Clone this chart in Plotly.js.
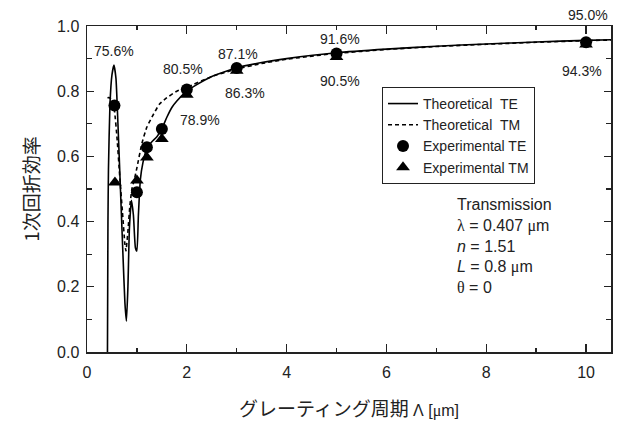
<!DOCTYPE html>
<html>
<head>
<meta charset="utf-8">
<script src="https://cdn.plot.ly/plotly-3.0.1.min.js"></script>
<style>html,body{margin:0;padding:0;background:#fff;}#chart{width:622px;height:421px;}</style>
</head>
<body>
<div id="chart"></div>
<script>
// Theoretical curves
const theoTE_x = [0.41, 0.415, 0.42, 0.43, 0.46, 0.50, 0.54, 0.58, 0.62, 0.67, 0.72, 0.76, 0.79, 0.82, 0.85, 0.89, 0.93, 0.97, 1.00, 1.03, 1.07, 1.12, 1.20, 1.30, 1.40, 1.50, 1.60, 1.70, 1.80, 2.00, 2.20, 2.50, 3.00, 3.50, 4.00, 5.00, 6.00, 7.00, 8.00, 9.00, 10.00, 10.50];
const theoTE_y = [0.00, 0.20, 0.40, 0.56, 0.76, 0.85, 0.88, 0.84, 0.70, 0.50, 0.30, 0.15, 0.095, 0.20, 0.38, 0.465, 0.42, 0.32, 0.31, 0.42, 0.53, 0.58, 0.625, 0.645, 0.66, 0.685, 0.72, 0.75, 0.77, 0.80, 0.82, 0.845, 0.872, 0.888, 0.90, 0.918, 0.929, 0.938, 0.945, 0.951, 0.956, 0.958];
const theoTM_x = [0.41, 0.45, 0.50, 0.55, 0.60, 0.66, 0.71, 0.76, 0.78, 0.82, 0.86, 0.90, 0.95, 1.00, 1.10, 1.20, 1.30, 1.45, 1.60, 1.80, 2.00, 2.50, 3.00, 3.50, 4.00, 5.00, 6.00, 7.00, 8.00, 9.00, 10.00, 10.50];
const theoTM_y = [0.78, 0.78, 0.77, 0.74, 0.66, 0.53, 0.43, 0.33, 0.31, 0.37, 0.45, 0.50, 0.53, 0.565, 0.64, 0.69, 0.72, 0.76, 0.78, 0.80, 0.812, 0.845, 0.868, 0.885, 0.898, 0.916, 0.928, 0.937, 0.944, 0.950, 0.955, 0.957];
// Experimental points
const expTE_x = [0.55, 1.0, 1.2, 1.5, 2.0, 3.0, 5.0, 10.0];
const expTE_y = [0.756, 0.49, 0.628, 0.684, 0.805, 0.871, 0.916, 0.950];
const expTM_x = [0.56, 1.0, 1.2, 1.5, 2.0, 3.0, 5.0, 10.0];
const expTM_y = [0.52, 0.526, 0.597, 0.653, 0.789, 0.863, 0.905, 0.943];
// Percentage labels
const lbl_text = ["75.6%", "80.5%", "78.9%", "87.1%", "86.3%", "91.6%", "90.5%", "95.0%", "94.3%"];
const lbl_x = [0.55, 1.92, 2.26, 3.02, 3.16, 5.07, 5.07, 10.03, 9.91];
const lbl_y = [0.924, 0.868, 0.712, 0.915, 0.796, 0.959, 0.832, 1.034, 0.862];
// Axis ticks
const xTicks = [0, 2, 4, 6, 8, 10];
const yTicks = [0.0, 0.2, 0.4, 0.6, 0.8, 1.0];

const FONT = "Liberation Sans, Arial, sans-serif";
const CJK = "Noto Sans CJK JP, sans-serif";
const SERIF = "Liberation Serif, Times New Roman, serif";

const traces = [
  {x: theoTE_x, y: theoTE_y, mode: 'lines', name: 'Theoretical\u00a0\u00a0TE',
   line: {color: '#000', width: 1.6, shape: 'spline', smoothing: 0.5}},
  {x: theoTM_x, y: theoTM_y, mode: 'lines', name: 'Theoretical\u00a0\u00a0TM',
   line: {color: '#000', width: 1.6, dash: '4px,3px', shape: 'spline', smoothing: 0.5}},
  {x: expTE_x, y: expTE_y, mode: 'markers', name: 'Experimental TE',
   marker: {symbol: 'circle', size: 12, color: '#000'}},
  {x: expTM_x, y: expTM_y, mode: 'markers', name: 'Experimental TM',
   marker: {symbol: 'triangle-up', size: 12, color: '#000'}}
];

// y range is [0,1], so paper y equals data y; paper ref keeps the 95.0% label (above the frame) visible
const annotations = lbl_text.map((t, i) => ({
  x: lbl_x[i], y: lbl_y[i], xref: 'x', yref: 'paper', text: t, showarrow: false,
  font: {family: FONT, size: 14, color: '#222'}, xanchor: 'center', yanchor: 'middle'
}));
annotations.push({
  xref: 'paper', yref: 'paper', x: 0.702, y: 0.485, xanchor: 'left', yanchor: 'top', align: 'left',
  showarrow: false, font: {family: FONT, size: 16, color: '#222'},
  text: 'Transmission<br><span style="font-family:' + SERIF + '">λ</span> = 0.407 <span style="font-family:' + SERIF + '">μ</span>m<br><i>n</i> = 1.51<br><i>L</i> = 0.8 <span style="font-family:' + SERIF + '">μ</span>m<br><span style="font-family:' + SERIF + '">θ</span> = 0'
});

const layout = {
  width: 622, height: 421,
  margin: {l: 87, r: 11, t: 26, b: 69},
  paper_bgcolor: '#fff', plot_bgcolor: '#fff',
  font: {family: FONT, size: 16, color: '#222'},
  showlegend: true,
  legend: {x: 0.563, y: 0.813, xanchor: 'left', yanchor: 'top', bgcolor: '#fff',
           bordercolor: '#222', borderwidth: 1, font: {family: FONT, size: 14, color: '#222'},
           traceorder: 'normal'},
  xaxis: {
    range: [0, 10.5], tickvals: xTicks, ticktext: xTicks.map(String),
    ticks: 'inside', ticklen: 8, tickwidth: 1.3, tickcolor: '#222',
    minor: {dtick: 1, ticks: 'inside', ticklen: 4, tickwidth: 1.3, tickcolor: '#222'},
    showline: true, linecolor: '#222', linewidth: 1.5, mirror: 'ticks',
    showgrid: false, zeroline: false, ticklabelstandoff: 5,
    tickfont: {family: FONT, size: 16, color: '#222'},
    title: {text: 'グレーティング周期\u00a0<span style="font-family:' + FONT + ';font-size:16px">Λ\u00a0[<span style="font-family:' + SERIF + '">μ</span>m]</span>',
            font: {family: CJK, size: 19, color: '#222'}, standoff: 26}
  },
  yaxis: {
    range: [0, 1.0], tickvals: yTicks, ticktext: yTicks.map(v => v.toFixed(1)),
    ticks: 'inside', ticklen: 7, tickwidth: 1.3, tickcolor: '#222',
    minor: {dtick: 0.1, ticks: 'inside', ticklen: 5, tickwidth: 1.3, tickcolor: '#222'},
    showline: true, linecolor: '#222', linewidth: 1.5, mirror: 'ticks',
    showgrid: false, zeroline: false, ticklabelstandoff: 3,
    tickfont: {family: FONT, size: 16, color: '#222'},
    title: {text: '1次回折効率', font: {family: CJK, size: 19, color: '#222'}, standoff: 12}
  },
  annotations: annotations
};

Plotly.newPlot('chart', traces, layout, {displayModeBar: false, staticPlot: true});
</script>
</body>
</html>
